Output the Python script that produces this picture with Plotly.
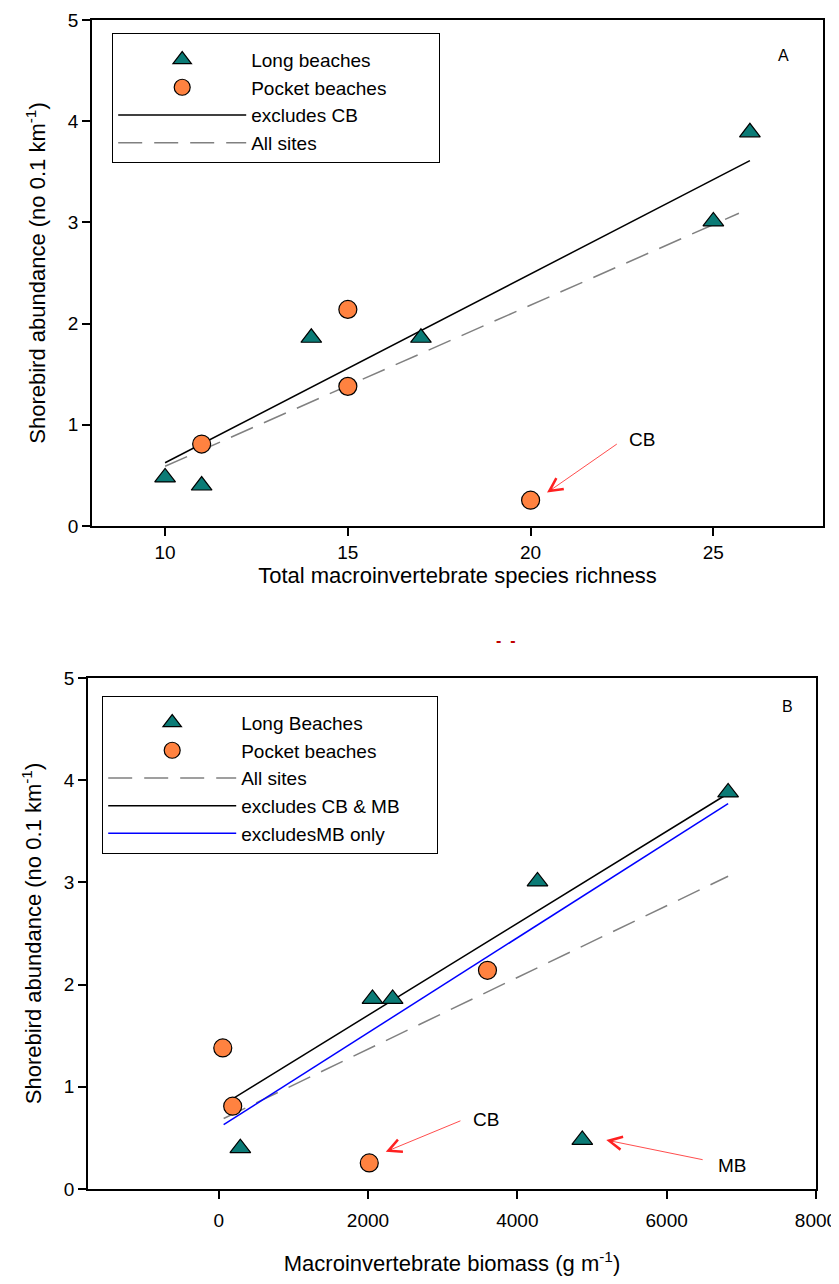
import plotly.graph_objects as go

# ---------------- Panel A data ----------------
richness_long = [10, 11, 14, 17, 25, 26]
abund_long_A = [0.48, 0.40, 1.86, 1.86, 3.01, 3.89]
richness_pocket = [11, 15, 15, 20]
abund_pocket_A = [0.81, 2.14, 1.38, 0.255]
fitA_exclCB_x = [10, 26]
fitA_exclCB_y = [0.625, 3.61]
fitA_all_x = [10, 25.7]
fitA_all_y = [0.59, 3.09]
xticksA = [10, 15, 20, 25]

# ---------------- Panel B data ----------------
biomass_long = [290, 2060, 2330, 4270, 4870, 6823]
abund_long_B = [0.40, 1.86, 1.86, 3.01, 0.48, 3.88]
biomass_pocket = [55, 188, 3600, 2017]
abund_pocket_B = [1.38, 0.81, 2.14, 0.255]
fitB_all_x = [67, 6823]
fitB_all_y = [0.69, 3.06]
fitB_exclCBMB_x = [180, 6823]
fitB_exclCBMB_y = [0.88, 3.87]
fitB_exclMB_x = [67, 6823]
fitB_exclMB_y = [0.63, 3.77]
xticksB = [0, 2000, 4000, 6000, 8000]
yticks = [0, 1, 2, 3, 4, 5]

TEAL = "#0B7B76"
ORANGE = "#FF8240"
FONT = "Liberation Sans, Arial, sans-serif"
# page body has an 8px margin; size the figure so it fits the window
OFF = 8
W, H = 831, 1268

fig = go.Figure()

tri = dict(symbol="triangle-up", size=18, color=TEAL, line=dict(color="black", width=1.2))
circ = dict(symbol="circle", size=18, color=ORANGE, line=dict(color="black", width=1.2))
dash = "24px,12px"

# Panel A traces
fig.add_trace(go.Scatter(x=fitA_exclCB_x, y=fitA_exclCB_y, mode="lines", name="excludes CB",
                         line=dict(color="black", width=1.5), xaxis="x", yaxis="y",
                         legend="legend", legendrank=3))
fig.add_trace(go.Scatter(x=fitA_all_x, y=fitA_all_y, mode="lines", name="All sites",
                         line=dict(color="#808080", width=1.5, dash=dash), xaxis="x", yaxis="y",
                         legend="legend", legendrank=4))
fig.add_trace(go.Scatter(x=richness_long, y=abund_long_A, mode="markers", name="Long beaches",
                         marker=tri, xaxis="x", yaxis="y", legend="legend", legendrank=1))
fig.add_trace(go.Scatter(x=richness_pocket, y=abund_pocket_A, mode="markers", name="Pocket beaches",
                         marker=circ, xaxis="x", yaxis="y", legend="legend", legendrank=2))

# Panel B traces
fig.add_trace(go.Scatter(x=fitB_all_x, y=fitB_all_y, mode="lines", name="All sites",
                         line=dict(color="#808080", width=1.5, dash=dash), xaxis="x2", yaxis="y2",
                         legend="legend2", legendrank=3))
fig.add_trace(go.Scatter(x=fitB_exclCBMB_x, y=fitB_exclCBMB_y, mode="lines", name="excludes CB &amp; MB",
                         line=dict(color="black", width=1.5), xaxis="x2", yaxis="y2",
                         legend="legend2", legendrank=4))
fig.add_trace(go.Scatter(x=fitB_exclMB_x, y=fitB_exclMB_y, mode="lines", name="excludesMB only",
                         line=dict(color="#0000FF", width=1.5), xaxis="x2", yaxis="y2",
                         legend="legend2", legendrank=5))
fig.add_trace(go.Scatter(x=biomass_long, y=abund_long_B, mode="markers", name="Long Beaches",
                         marker=tri, xaxis="x2", yaxis="y2", legend="legend2", legendrank=1))
fig.add_trace(go.Scatter(x=biomass_pocket, y=abund_pocket_B, mode="markers", name="Pocket beaches",
                         marker=circ, xaxis="x2", yaxis="y2", legend="legend2", legendrank=2))


def px_x(p):
    return (p - OFF) / W


def px_y(p):
    return 1 - (p - OFF) / H


axis_common = dict(showgrid=False, zeroline=False, showline=True, linecolor="black", linewidth=1.5,
                   mirror=True, ticks="outside", ticklen=8, tickwidth=1.5, tickcolor="black",
                   tickfont=dict(family=FONT, size=19, color="black"), automargin=False,
                   ticklabeloverflow="allow")

ytitle = "Shorebird abundance (no 0.1 km<sup>-1</sup>)"


def legend_style(n_pad):
    # an invisible spacer title widens the legend box to the reference size
    return dict(xanchor="left", yanchor="top", bgcolor="white",
                bordercolor="black", borderwidth=1.2, font=dict(family=FONT, size=19),
                itemwidth=128, tracegroupgap=0, traceorder="normal",
                title=dict(text="&nbsp;" * n_pad, font=dict(size=5)))


fig.update_layout(
    width=W, height=H,
    margin=dict(l=0, r=0, t=0, b=0),
    paper_bgcolor="white", plot_bgcolor="white",
    font=dict(family=FONT, color="black"),
    xaxis=dict(domain=[px_x(92), px_x(823)], range=[8, 28], tickvals=xticksA, anchor="y",
               title=dict(text="Total macroinvertebrate species richness",
                          font=dict(family=FONT, size=22), standoff=5), **axis_common),
    yaxis=dict(domain=[px_y(526), px_y(20)], range=[0, 5], tickvals=yticks, anchor="x",
               title=dict(text=ytitle, font=dict(family=FONT, size=22), standoff=16), **axis_common),
    xaxis2=dict(domain=[px_x(88), px_x(816)], range=[-1750, 8000], tickvals=xticksB, anchor="y2",
                ticklabelstandoff=5,
                title=dict(text="Macroinvertebrate biomass (g m<sup>-1</sup>)",
                           font=dict(family=FONT, size=22), standoff=26), **axis_common),
    yaxis2=dict(domain=[px_y(1189), px_y(678)], range=[0, 5], tickvals=yticks, anchor="x2",
                title=dict(text=ytitle, font=dict(family=FONT, size=22), standoff=16), **axis_common),
    legend=dict(x=px_x(112), y=px_y(33), **legend_style(231)),
    legend2=dict(x=px_x(102), y=px_y(696), **legend_style(237)),
    showlegend=True,
)

ann = []
# panel labels
ann.append(dict(text="A", x=px_x(791), y=px_y(45), xref="paper", yref="paper", showarrow=False,
                font=dict(size=16, family=FONT)))
ann.append(dict(text="B", x=px_x(795), y=px_y(706), xref="paper", yref="paper", showarrow=False,
                font=dict(size=16, family=FONT)))
# Panel A: CB arrow
ann.append(dict(text="", x=20.45, y=0.33, ax=22.4, ay=0.82, xref="x", yref="y", axref="x", ayref="y",
                showarrow=True, arrowhead=5, arrowsize=3.2, arrowwidth=0.8, arrowcolor="#FF2020"))
ann.append(dict(text="CB", x=23.05, y=0.85, xref="x", yref="y", showarrow=False,
                font=dict(size=19, family=FONT)))
# Panel B: CB and MB arrows
ann.append(dict(text="", x=2238, y=0.365, ax=3258, ay=0.673, xref="x2", yref="y2", axref="x2", ayref="y2",
                showarrow=True, arrowhead=5, arrowsize=3.2, arrowwidth=0.8, arrowcolor="#FF2020"))
ann.append(dict(text="CB", x=3580, y=0.68, xref="x2", yref="y2", showarrow=False,
                font=dict(size=19, family=FONT)))
ann.append(dict(text="", x=5191, y=0.479, ax=6502, ay=0.284, xref="x2", yref="y2", axref="x2", ayref="y2",
                showarrow=True, arrowhead=5, arrowsize=3.2, arrowwidth=0.8, arrowcolor="#FF2020"))
ann.append(dict(text="MB", x=6878, y=0.23, xref="x2", yref="y2", showarrow=False,
                font=dict(size=19, family=FONT)))
# small red mark between panels
ann.append(dict(text="<b>-  -</b>", x=px_x(506), y=px_y(640), xref="paper", yref="paper", showarrow=False,
                font=dict(size=16, family=FONT, color="#C00000")))
fig.update_layout(annotations=ann)

fig.write_html("out.html")
